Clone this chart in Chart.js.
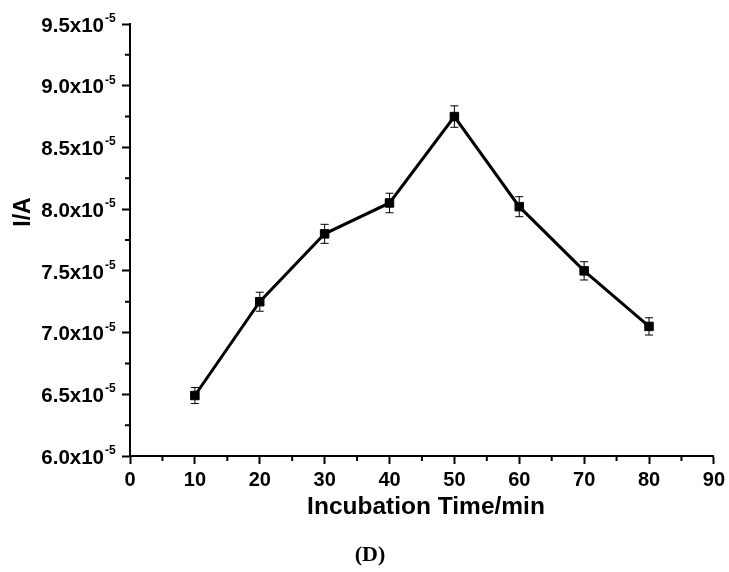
<!DOCTYPE html>
<html>
<head>
<meta charset="utf-8">
<script src="https://cdn.jsdelivr.net/npm/chart.js@4.4.1/dist/chart.umd.min.js"></script>
<style>
  html, body { margin: 0; padding: 0; background: #fff; }
  #wrap { width: 729px; height: 572px; }
</style>
</head>
<body>
<div id="wrap"><canvas id="chart" width="729" height="572"></canvas></div>
<script>
// incubation time (min) and current (units of 10^-5 A)
const times = [10, 20, 30, 40, 50, 60, 70, 80];
const current = [6.49, 7.25, 7.80, 8.05, 8.75, 8.02, 7.50, 7.05];
const errors = [0.065, 0.077, 0.077, 0.079, 0.087, 0.081, 0.074, 0.07];
const yTicks = [6.0, 6.5, 7.0, 7.5, 8.0, 8.5, 9.0, 9.5];
const yTickLabels = ['6.0x10', '6.5x10', '7.0x10', '7.5x10', '8.0x10', '8.5x10', '9.0x10', '9.5x10'];
const yExponent = '-5';
const xTitle = 'Incubation Time/min';
const yTitle = 'I/A';
const panelLabel = '(D)';

const FONT = '"Liberation Sans", Arial, sans-serif';

// error bars, minor ticks, y labels with superscript, titles
const extras = {
  id: 'extras',
  afterDatasetsDraw(chart) {
    const ctx = chart.ctx;
    const x = chart.scales.x, y = chart.scales.y;
    ctx.save();
    ctx.strokeStyle = '#000';
    ctx.lineWidth = 1;
    times.forEach((t, i) => {
      const px = x.getPixelForValue(t);
      const top = y.getPixelForValue(current[i] + errors[i]);
      const bot = y.getPixelForValue(current[i] - errors[i]);
      ctx.beginPath();
      ctx.moveTo(px, top); ctx.lineTo(px, bot);
      ctx.moveTo(px - 4, top); ctx.lineTo(px + 4, top);
      ctx.moveTo(px - 4, bot); ctx.lineTo(px + 4, bot);
      ctx.stroke();
    });
    ctx.restore();
  },
  afterDraw(chart) {
    const ctx = chart.ctx;
    const x = chart.scales.x, y = chart.scales.y;
    const area = chart.chartArea;
    ctx.save();
    ctx.strokeStyle = '#000';
    ctx.lineWidth = 2;
    // minor ticks
    ctx.beginPath();
    for (let v = 5; v < 90; v += 10) {
      const px = x.getPixelForValue(v);
      ctx.moveTo(px, area.bottom); ctx.lineTo(px, area.bottom + 5);
    }
    for (let i = 0; i < yTicks.length - 1; i++) {
      const py = y.getPixelForValue((yTicks[i] + yTicks[i + 1]) / 2);
      ctx.moveTo(area.left, py); ctx.lineTo(area.left - 5, py);
    }
    ctx.stroke();

    // y tick labels like 9.5x10^-5
    ctx.fillStyle = '#000';
    yTicks.forEach((v, i) => {
      const py = y.getPixelForValue(v);
      ctx.font = 'bold 20.5px ' + FONT;
      ctx.textAlign = 'right';
      ctx.textBaseline = 'middle';
      ctx.fillText(yTickLabels[i], 104, py + 2);
      ctx.font = 'bold 12px ' + FONT;
      ctx.textAlign = 'left';
      ctx.textBaseline = 'alphabetic';
      ctx.fillText(yExponent, 105, py - 2);
    });

    // axis titles
    ctx.font = 'bold 24.5px ' + FONT;
    ctx.textAlign = 'center';
    ctx.textBaseline = 'middle';
    ctx.fillText(xTitle, 426, 507);
    ctx.save();
    ctx.translate(24, 212);
    ctx.rotate(-Math.PI / 2);
    ctx.font = 'bold 23px ' + FONT;
    ctx.fillText(yTitle, 0, 0);
    ctx.restore();

    // panel label
    ctx.font = 'bold 22px "Liberation Serif", "Times New Roman", serif';
    ctx.fillText(panelLabel, 370, 555);
    ctx.restore();
  }
};

new Chart(document.getElementById('chart'), {
  type: 'line',
  data: {
    datasets: [{
      data: times.map((t, i) => ({ x: t, y: current[i] })),
      borderColor: '#000',
      borderWidth: 3,
      backgroundColor: '#000',
      pointStyle: 'rect',
      pointRadius: 6,
      pointBorderWidth: 1,
      tension: 0
    }]
  },
  options: {
    responsive: false,
    animation: false,
    layout: { padding: { top: 24, right: 13, left: 0, bottom: 0 } },
    plugins: { legend: { display: false }, tooltip: { enabled: false } },
    scales: {
      x: {
        type: 'linear',
        min: 0, max: 90,
        afterFit(scale) { scale.height = 116; },
        ticks: { stepSize: 10, color: '#000', padding: 4, font: { family: FONT, size: 20, weight: 'bold' } },
        grid: { drawOnChartArea: false, tickLength: 8, tickWidth: 2, tickColor: '#000' },
        border: { display: true, color: '#000', width: 2 }
      },
      y: {
        type: 'linear',
        min: 6.0, max: 9.5,
        afterFit(scale) { scale.width = 130; },
        ticks: { stepSize: 0.5, display: false },
        grid: { drawOnChartArea: false, tickLength: 8, tickWidth: 2, tickColor: '#000' },
        border: { display: true, color: '#000', width: 2 }
      }
    }
  },
  plugins: [extras]
});
</script>
</body>
</html>
